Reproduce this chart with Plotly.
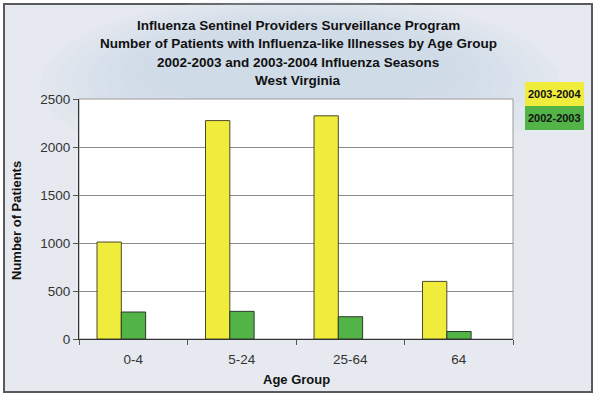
import plotly.graph_objects as go

categories = ["0-4", "5-24", "25-64", "64"]
season_2003_2004 = [1010, 2275, 2325, 600]
season_2002_2003 = [281, 288, 232, 78]
series_names = ["2003-2004", "2002-2003"]
title_lines = [
    "Influenza Sentinel Providers Surveillance Program",
    "Number of Patients with Influenza-like Illnesses by Age Group",
    "2002-2003 and 2003-2004 Influenza Seasons",
    "West Virginia",
]
y_ticks = [0, 500, 1000, 1500, 2000, 2500]

W, H = 600, 397
L, R, T, B = 79, 513, 99, 339
pw, ph = R - L, B - T


def px(x):
    return (x - L) / pw


def py(y):
    return (B - y) / ph


FONT = "Liberation Sans, Arial, sans-serif"
YELLOW = "#F0EC3C"
GREEN = "#52B347"

fig = go.Figure()
fig.add_trace(go.Bar(x=categories, y=season_2003_2004, name=series_names[0],
                     marker=dict(color=YELLOW, line=dict(color="#4a4a2a", width=1)),
                     width=0.224, offset=-0.334, showlegend=False))
fig.add_trace(go.Bar(x=categories, y=season_2002_2003, name=series_names[1],
                     marker=dict(color=GREEN, line=dict(color="#2a3a2a", width=1)),
                     width=0.224, offset=-0.110, showlegend=False))

shapes = []
# outer frame with light background
shapes.append(dict(type="rect", xref="paper", yref="paper", layer="below",
                   x0=px(4), x1=px(592), y0=py(392), y1=py(4),
                   fillcolor="#E6EAF0", line=dict(color="#5a5a5a", width=2)))
# soft blue glow behind the title
for i in range(8):
    shapes.append(dict(type="circle", xref="paper", yref="paper", layer="below",
                       x0=px(40 + i * 16), x1=px(560 - i * 16),
                       y0=py(175 - i * 9), y1=py(-5 + i * 5),
                       fillcolor="#C3D6E7", opacity=0.12, line=dict(width=0)))
# plot area
shapes.append(dict(type="rect", xref="paper", yref="paper", layer="below",
                   x0=0, x1=1, y0=0, y1=1, fillcolor="white",
                   line=dict(color="#9a9a9a", width=1)))
# legend boxes
shapes.append(dict(type="rect", xref="paper", yref="paper",
                   x0=px(525), x1=px(584), y0=py(106), y1=py(82),
                   fillcolor=YELLOW, line=dict(width=0)))
shapes.append(dict(type="rect", xref="paper", yref="paper",
                   x0=px(525), x1=px(584), y0=py(130), y1=py(106),
                   fillcolor=GREEN, line=dict(width=0)))

annotations = []
for i, line in enumerate(title_lines):
    annotations.append(dict(text="<b>%s</b>" % line, xref="paper", yref="paper",
                            x=px(298), y=py(25 + i * 18.5), showarrow=False,
                            xanchor="center", yanchor="middle",
                            font=dict(family=FONT, size=13.5, color="#111")))
annotations.append(dict(text="<b>%s</b>" % series_names[0], xref="paper", yref="paper",
                        x=px(554.5), y=py(94), showarrow=False, xanchor="center", yanchor="middle",
                        font=dict(family=FONT, size=11, color="#111")))
annotations.append(dict(text="<b>%s</b>" % series_names[1], xref="paper", yref="paper",
                        x=px(554.5), y=py(118), showarrow=False, xanchor="center", yanchor="middle",
                        font=dict(family=FONT, size=11, color="#111")))
annotations.append(dict(text="<b>Number of Patients</b>", xref="paper", yref="paper",
                        x=px(16), y=py(220), showarrow=False, textangle=-90,
                        xanchor="center", yanchor="middle",
                        font=dict(family=FONT, size=13, color="#111")))
annotations.append(dict(text="<b>Age Group</b>", xref="paper", yref="paper",
                        x=px(296.5), y=py(379), showarrow=False,
                        xanchor="center", yanchor="middle",
                        font=dict(family=FONT, size=13, color="#111")))

fig.update_layout(
    width=W, height=H,
    margin=dict(l=L, r=W - R, t=T, b=H - B, pad=0),
    paper_bgcolor="white", plot_bgcolor="rgba(0,0,0,0)",
    barmode="overlay",
    shapes=shapes, annotations=annotations,
    font=dict(family=FONT, size=12, color="#333"),
    xaxis=dict(showline=True, linecolor="#333", linewidth=1,
               ticks="outside", ticklen=5, tickcolor="#555", tickson="boundaries",
               showgrid=False, range=[-0.5, 3.5], fixedrange=True,
               ticklabelstandoff=8,
               tickfont=dict(family=FONT, size=13.5, color="#333")),
    yaxis=dict(range=[0, 2500], tickvals=y_ticks, showline=True, linecolor="#333",
               linewidth=1, ticks="outside", ticklen=5, tickcolor="#555",
               showgrid=True, gridcolor="#8a8a8a", gridwidth=1, zeroline=False,
               fixedrange=True,
               tickfont=dict(family=FONT, size=13.5, color="#333")),
)

fig.write_html("out.html", config={"displayModeBar": False},
               post_script="document.body.style.margin='0';")
